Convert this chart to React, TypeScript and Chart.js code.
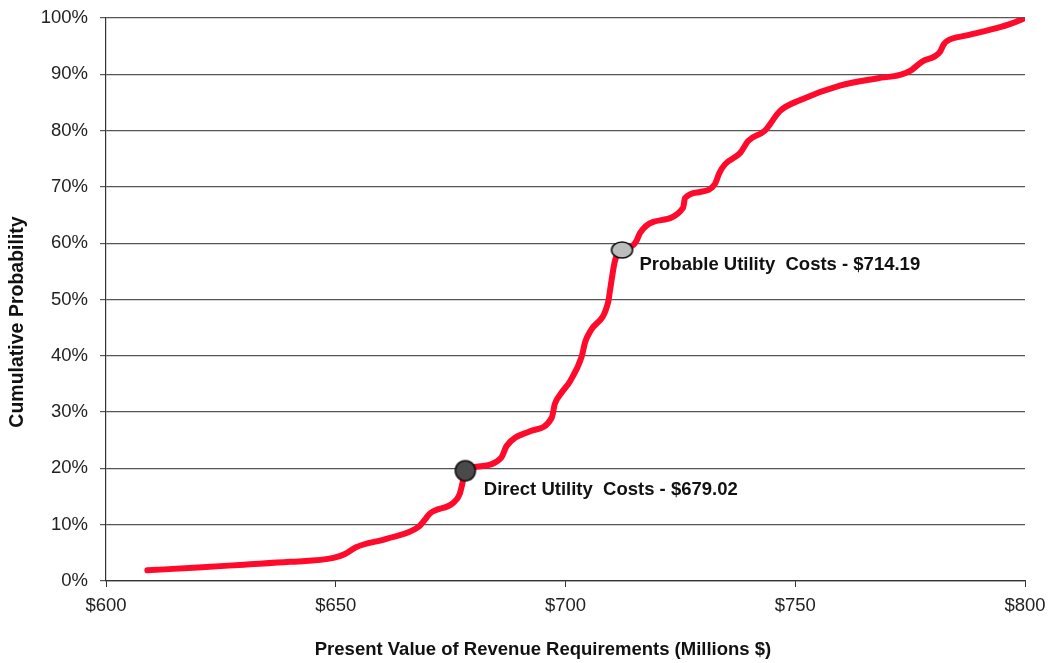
import React, { useEffect, useRef } from "react";
import { Chart, registerables } from "chart.js";

Chart.register(...registerables);

// Cumulative distribution curve: present value ($M) vs cumulative probability (%)
const curveX = [
  609, 620, 630, 640, 649.5, 652, 654.4, 661, 668, 669.5, 670.5, 675.6, 677, 677.8, 678.2,
  680.6, 686, 687.2, 692.3, 697, 697.7, 699, 701, 703.5, 704.3, 705.5, 709.3, 709.7, 710.8,
  712.3, 714.8, 715.5, 716.2, 719.1, 725.6, 726.0, 729.3, 732.5, 733.5, 734.7, 738, 739.8,
  743.4, 746.7, 751, 759.7, 768, 772.8, 775, 777.5, 781.5, 782.3, 783.2, 787.3, 793.8, 797, 800,
];
const curveY = [
  1.9, 2.4, 2.9, 3.4, 4.1, 4.8, 6.0, 7.5, 9.6, 11.0, 12.0, 13.9, 15.5, 18.2, 19.6,
  20.3, 21.9, 24.0, 26.6, 29.0, 31.5, 33.3, 35.5, 39.8, 42.5, 44.5, 49.6, 51.7, 57.0,
  58.8, 59.7, 60.5, 61.8, 63.8, 66.3, 68.0, 69.1, 70.5, 72.5, 74.0, 76.0, 78.2,
  80.0, 83.5, 85.4, 88.0, 89.3, 89.9, 90.6, 92.2, 94.0, 95.3, 96.0, 96.9, 98.2, 99.0, 100,
];

const markerLabels = ["Direct Utility  Costs - $679.02", "Probable Utility  Costs - $714.19"];
const markerX = [678.2, 712.3];
const markerY = [19.6, 58.8];

const xTicks = [600, 650, 700, 750, 800];
const yTicks = [0, 10, 20, 30, 40, 50, 60, 70, 80, 90, 100];

const xTitle = "Present Value of Revenue Requirements (Millions $)";
const yTitle = "Cumulative Probability";

const FONT = '"Liberation Sans", Arial, Helvetica, sans-serif';

function makeEllipse(w: number, h: number, fill: string): HTMLCanvasElement {
  const c = document.createElement("canvas");
  c.width = w + 4;
  c.height = h + 4;
  const g = c.getContext("2d")!;
  g.beginPath();
  g.ellipse(c.width / 2, c.height / 2, w / 2, h / 2, 0, 0, Math.PI * 2);
  g.fillStyle = fill;
  g.fill();
  g.lineWidth = 1.6;
  g.strokeStyle = "#111";
  g.stroke();
  return c;
}

export default function App() {
  const ref = useRef<HTMLCanvasElement | null>(null);

  useEffect(() => {
    document.body.style.margin = "0";
    const canvas = ref.current!;
    const markerStyles = [makeEllipse(20, 20, "#4a4a4a"), makeEllipse(21, 16, "#bdbdbd")];
    const labelOffsets = [
      { dx: 18.5, dy: 19 },
      { dx: 17.5, dy: 15 },
    ];

    const textPlugin = {
      id: "texts",
      afterDraw(chart: any) {
        const ctx = chart.ctx;
        const xs = chart.scales.x;
        const ys = chart.scales.y;
        ctx.save();
        ctx.fillStyle = "#111";
        ctx.font = `bold 18.5px ${FONT}`;
        ctx.textBaseline = "middle";
        ctx.textAlign = "left";
        markerLabels.forEach((t, i) => {
          const px = xs.getPixelForValue(markerX[i]);
          const py = ys.getPixelForValue(markerY[i]);
          ctx.fillText(t, px + labelOffsets[i].dx, py + labelOffsets[i].dy);
        });
        ctx.textAlign = "center";
        ctx.fillText(xTitle, 543, 650);
        ctx.translate(18, 322);
        ctx.rotate(-Math.PI / 2);
        ctx.font = `bold 19.5px ${FONT}`;
        ctx.fillText(yTitle, 0, 0);
        ctx.restore();
      },
    };

    const chart = new Chart(canvas, {
      type: "line",
      data: {
        datasets: [
          {
            data: markerX.map((x, i) => ({ x, y: markerY[i] })),
            showLine: false,
            pointStyle: markerStyles as any,
            pointRadius: 10,
            order: 0,
          } as any,
          {
            data: curveX.map((x, i) => ({ x, y: curveY[i] })),
            borderColor: "#ff0a2a",
            borderWidth: 6,
            pointRadius: 0,
            cubicInterpolationMode: "monotone",
            borderCapStyle: "round",
            borderJoinStyle: "round",
            fill: false,
            order: 1,
          } as any,
        ],
      },
      options: {
        animation: false,
        responsive: false,
        events: [],
        layout: { padding: { left: 0, top: 18, right: 33, bottom: 0 } },
        plugins: { legend: { display: false }, tooltip: { enabled: false } },
        scales: {
          x: {
            type: "linear",
            min: 600,
            max: 800,
            afterBuildTicks(scale: any) {
              scale.ticks = xTicks.map((v) => ({ value: v }));
            },
            afterFit(scale: any) {
              scale.height = 82;
              scale.paddingLeft = 0;
              scale.paddingRight = 0;
            },
            ticks: {
              padding: 8,
              color: "#222",
              font: { family: FONT, size: 18.5 },
              callback: (v: any) => "$" + v,
              maxRotation: 0,
            },
            grid: { drawOnChartArea: false, drawTicks: true, tickLength: 6, color: "#333", lineWidth: 1 },
            border: { color: "#333", width: 1.2 },
          },
          y: {
            type: "linear",
            min: 0,
            max: 100,
            afterBuildTicks(scale: any) {
              scale.ticks = yTicks.map((v) => ({ value: v }));
            },
            afterFit(scale: any) {
              scale.width = 106;
              scale.paddingTop = 0;
              scale.paddingBottom = 0;
            },
            ticks: {
              padding: 12,
              color: "#222",
              font: { family: FONT, size: 18.5 },
              callback: (v: any) => v + "%",
            },
            grid: { drawTicks: true, tickLength: 6, color: "#555", lineWidth: 1.2 },
            border: { color: "#333", width: 1.2 },
          },
        },
      },
      plugins: [textPlugin],
    });
    return () => chart.destroy();
  }, []);

  return <canvas ref={ref} width={1058} height={663} style={{ display: "block" }} />;
}
